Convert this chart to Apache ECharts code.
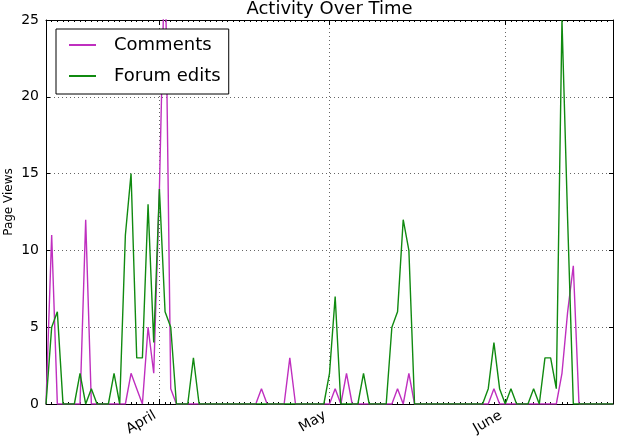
<!DOCTYPE html>
<html>
<head>
<meta charset="utf-8">
<script src="https://cdn.jsdelivr.net/npm/echarts@6/dist/echarts.min.js"></script>
<style>
  html, body { margin: 0; padding: 0; background: #fff; }
  #chart { width: 619px; height: 440px; }
</style>
</head>
<body>
<div id="chart"></div>
<script>
// one point per day, 12 March .. 20 June
const startDay = new Date(2014, 2, 12);
const dayCount = 101;
const days = [];
for (let i = 0; i < dayCount; i++) {
  const d = new Date(startDay.getTime() + i * 86400000);
  days.push(String(d.getMonth() + 1).padStart(2, '0') + '-' + String(d.getDate()).padStart(2, '0'));
}

const monthLabels = { '04-01': 'April', '05-01': 'May', '06-01': 'June' };
const yTicks = [0, 5, 10, 15, 20, 25];

const comments = [
  0, 11, 0, 0, 0, 0, 0, 12, 0, 0,
  0, 0, 0, 0, 0, 2, 1, 0, 5, 2,
  14, 30, 1, 0, 0, 0, 0, 0, 0, 0,
  0, 0, 0, 0, 0, 0, 0, 0, 1, 0,
  0, 0, 0, 3, 0, 0, 0, 0, 0, 0,
  0, 1, 0, 2, 0, 0, 0, 0, 0, 0,
  0, 0, 1, 0, 2, 0, 0, 0, 0, 0,
  0, 0, 0, 0, 0, 0, 0, 0, 0, 1,
  0, 0, 0, 0, 0, 0, 0, 0, 0, 0,
  0, 2, 6, 9, 0, 0, 0, 0, 0, 0,
  0
];

const forumEdits = [
  0, 5, 6, 0, 0, 0, 2, 0, 1, 0,
  0, 0, 2, 0, 11, 15, 3, 3, 13, 4,
  14, 6, 5, 0, 0, 0, 3, 0, 0, 0,
  0, 0, 0, 0, 0, 0, 0, 0, 0, 0,
  0, 0, 0, 0, 0, 0, 0, 0, 0, 0,
  2, 7, 0, 0, 0, 0, 2, 0, 0, 0,
  0, 5, 6, 12, 10, 0, 0, 0, 0, 0,
  0, 0, 0, 0, 0, 0, 0, 0, 1, 4,
  1, 0, 1, 0, 0, 0, 1, 0, 3, 3,
  1, 25, 12, 0, 0, 0, 0, 0, 0, 0,
  0
];

const font = 'DejaVu Sans';
const isMonth = (idx, val) => val in monthLabels;
const dotted = { color: '#666', width: 1, type: [1, 3] };

const chart = echarts.init(document.getElementById('chart'));
chart.setOption({
  animation: false,
  textStyle: { fontFamily: font, color: '#000' },
  title: {
    text: 'Activity Over Time',
    left: 329.5,
    textAlign: 'center',
    top: 0,
    padding: 0,
    textStyle: { fontFamily: font, fontSize: 18, fontWeight: 'normal', color: '#000', lineHeight: 18 }
  },
  legend: {
    orient: 'vertical',
    left: 56,
    top: 29,
    padding: [7, 8, 9, 12],
    itemWidth: 27,
    itemHeight: 14,
    itemGap: 13,
    backgroundColor: '#fff',
    borderColor: '#000',
    borderWidth: 1,
    itemStyle: { opacity: 0 },
    textStyle: { fontFamily: font, fontSize: 18, color: '#000', padding: [0, 0, 0, 13] },
    data: ['Comments', 'Forum edits']
  },
  grid: { left: 46, right: 6, top: 20, bottom: 36, outerBoundsMode: 'none' },
  xAxis: [
    {
      type: 'category',
      data: days,
      boundaryGap: false,
      position: 'bottom',
      axisLine: { lineStyle: { color: '#000', width: 1 } },
      axisTick: { inside: true, length: 5, interval: isMonth, lineStyle: { color: '#000' } },
      axisLabel: {
        interval: isMonth,
        formatter: v => monthLabels[v] || '',
        rotate: 30,
        margin: 8,
        padding: [0, 5, 0, 0],
        fontSize: 14,
        fontFamily: font,
        color: '#000'
      },
      splitLine: { show: true, interval: isMonth, lineStyle: dotted }
    },
    {
      type: 'category',
      data: days,
      boundaryGap: false,
      position: 'bottom',
      axisLine: { show: false },
      axisTick: { inside: true, length: 2, interval: 0, lineStyle: { color: '#000' } },
      axisLabel: { show: false },
      splitLine: { show: false }
    },
    {
      type: 'category',
      data: days,
      boundaryGap: false,
      position: 'top',
      axisLine: { lineStyle: { color: '#000', width: 1 } },
      axisTick: { inside: true, length: 2, interval: 0, lineStyle: { color: '#000' } },
      axisLabel: { show: false },
      splitLine: { show: false }
    },
    {
      type: 'category',
      data: days,
      boundaryGap: false,
      position: 'top',
      axisLine: { show: false },
      axisTick: { inside: true, length: 5, interval: isMonth, lineStyle: { color: '#000' } },
      axisLabel: { show: false },
      splitLine: { show: false }
    }
  ],
  yAxis: [
    {
      type: 'value',
      min: yTicks[0],
      max: yTicks[yTicks.length - 1],
      interval: 5,
      name: 'Page Views',
      nameLocation: 'middle',
      nameGap: 31,
      nameMoveOverlap: false,
      nameTextStyle: { fontFamily: font, fontSize: 12, color: '#000', padding: [0, 0, 0, 20] },
      axisLine: { show: true, lineStyle: { color: '#000', width: 1 } },
      axisTick: { show: true, inside: true, length: 4, lineStyle: { color: '#000' } },
      axisLabel: { margin: 7, fontSize: 14, fontFamily: font, color: '#000' },
      splitLine: { show: true, lineStyle: dotted }
    },
    {
      type: 'value',
      min: yTicks[0],
      max: yTicks[yTicks.length - 1],
      interval: 5,
      position: 'right',
      axisLine: { show: true, lineStyle: { color: '#000', width: 1 } },
      axisTick: { show: true, inside: true, length: 4, lineStyle: { color: '#000' } },
      axisLabel: { show: false },
      splitLine: { show: false }
    }
  ],
  series: [
    {
      name: 'Comments',
      type: 'line',
      data: comments,
      symbol: 'none',
      clip: true,
      color: '#bf2fbf',
      lineStyle: { color: '#bf2fbf', width: 1.4 }
    },
    {
      name: 'Forum edits',
      type: 'line',
      data: forumEdits,
      symbol: 'none',
      clip: true,
      color: '#108a10',
      lineStyle: { color: '#108a10', width: 1.4 }
    }
  ]
});
</script>
</body>
</html>
